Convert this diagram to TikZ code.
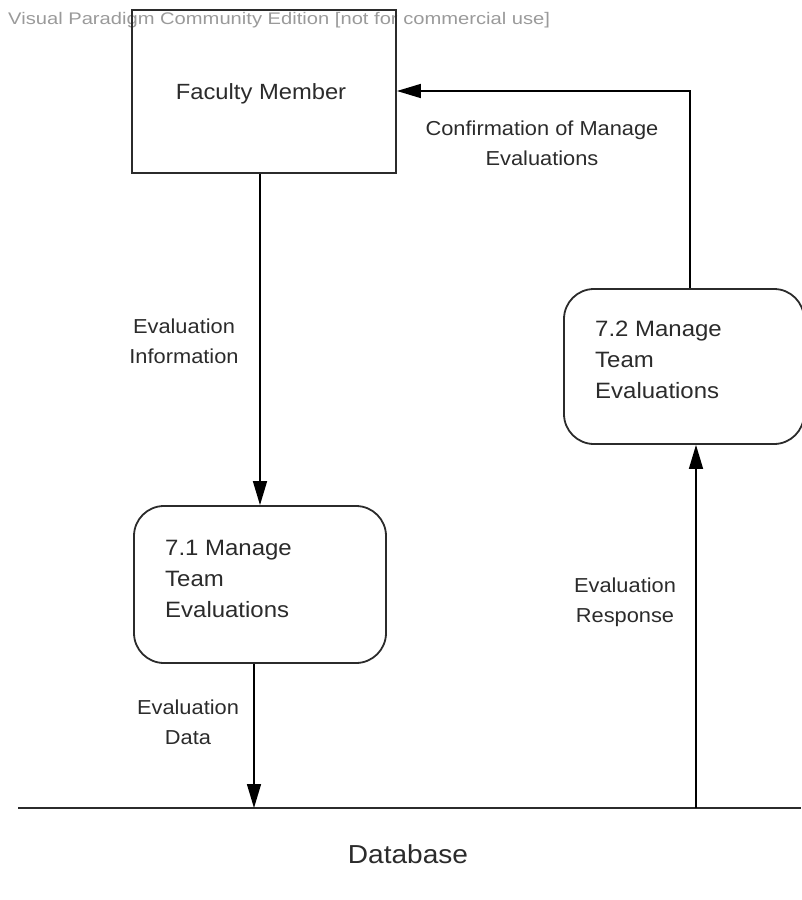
\documentclass[tikz,border=0pt]{standalone}
\usepackage{fontspec}
\setmainfont[FakeStretch=1.08]{Liberation Sans}
\newfontfamily\wmfont[FakeStretch=1.2]{Liberation Sans}
\usetikzlibrary{arrows.meta,calc}
\definecolor{ink}{HTML}{2B2B2B}
\definecolor{wm}{HTML}{9A9A9A}
\begin{document}
\begin{tikzpicture}[x=1pt,y=-1pt,
  entbox/.style={draw=ink, line width=1.8pt, minimum width=264pt, minimum height=163pt, inner sep=0pt},
  procbox/.style={draw=ink, line width=1.8pt, rounded corners=30pt, inner sep=0pt},
  proctext/.style={text=ink, font=\fontsize{22.2}{31}\selectfont, align=left, inner sep=0pt},
  lbl/.style={text=ink, font=\fontsize{20.2}{30}\selectfont, align=center, inner sep=0pt},
  flow/.style={draw=black, line width=1.5pt, -{Triangle[length=24pt,width=14pt]}}]
\useasboundingbox (0,0) rectangle (801,900);
% watermark
\node[text=wm, font=\wmfont\fontsize{16.8}{20}\selectfont, anchor=west, inner sep=0pt] (wmk) at (8,20) {Visual Paradigm Community Edition [not for commercial use]};
% external entity
\node[entbox] (fm) at (264,91.5) {};
\node[text=ink, font=\fontsize{22}{26}\selectfont, inner sep=0pt] (fmt) at (261,94) {Faculty Member};
% processes
\node[procbox, minimum width=252pt, minimum height=157pt] (p1) at (260,584.5) {};
\node[proctext, anchor=west] (p1t) at (165,579) {7.1 Manage\\Team\\Evaluations};
\node[procbox, minimum width=240pt, minimum height=155pt] (p2) at (684,366.5) {};
\node[proctext, anchor=west] (p2t) at (595,360) {7.2 Manage\\Team\\Evaluations};
% data store
\coordinate (dbL) at (18,808);
\coordinate (dbR) at (801,808);
\draw[draw=ink, line width=2pt] (dbL) -- (dbR);
\node[text=ink, font=\fontsize{26}{30}\selectfont, inner sep=0pt] (db) at (408,854) {Database};
\coordinate (db1) at (254,808);
\coordinate (db2) at (696,808);
\coordinate (c2) at (690,91);
% flows
\draw[flow] (fm.south -| p1.north) -- (p1.north);
\draw[flow] (p1.south -| db1) -- (db1);
\draw[flow] (db2) -- (p2.south -| db2);
\draw[flow] (p2.north -| c2) -- (c2) -- (fm.east |- c2);
% labels
\node[lbl] (l1) at (542,143) {Confirmation of Manage\\Evaluations};
\node[lbl] (l2) at (184,341) {Evaluation\\Information};
\node[lbl] (l3) at (188,722) {Evaluation\\Data};
\node[lbl] (l4) at (625,602) {Evaluation\\Response};
\end{tikzpicture}
\end{document}
